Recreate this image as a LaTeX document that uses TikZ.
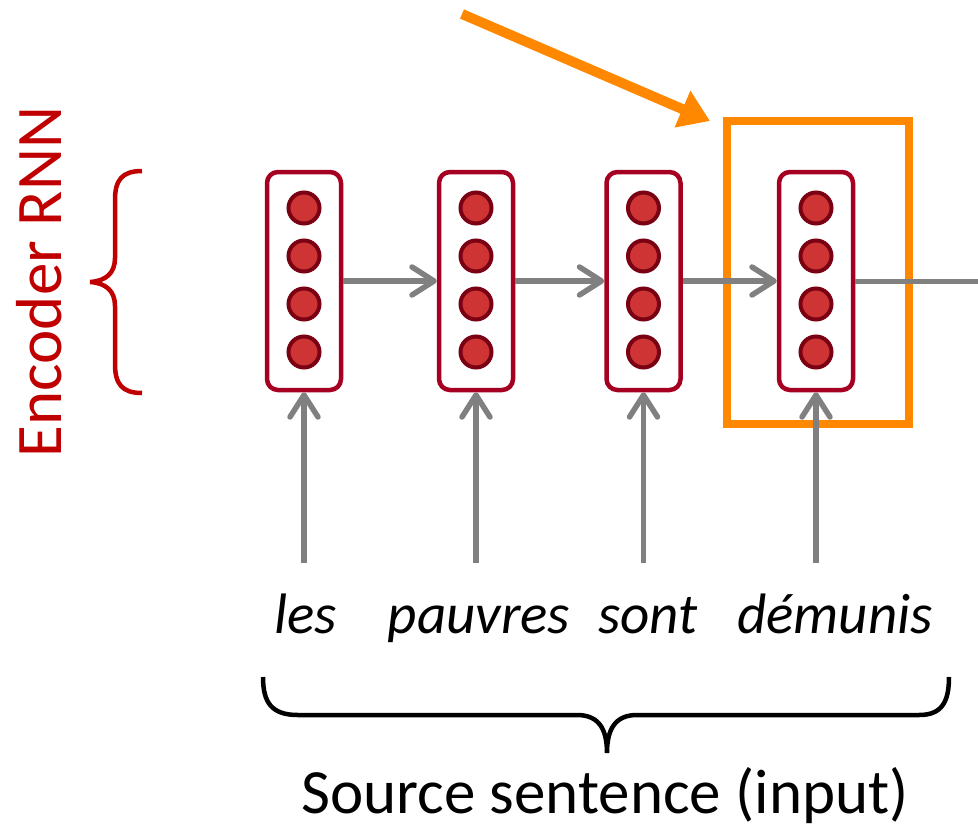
\documentclass[tikz,border=0pt]{standalone}
\usepackage{fontspec}
\setmainfont{Carlito}
\usetikzlibrary{arrows.meta}
\definecolor{boxred}{RGB}{165,0,33}
\definecolor{dotfill}{RGB}{206,52,52}
\definecolor{dotline}{RGB}{122,0,20}
\definecolor{flowgray}{RGB}{128,128,128}
\definecolor{hlorange}{RGB}{255,136,0}
\definecolor{encred}{RGB}{192,0,0}
\tikzset{
  rnnbox/.style={draw=boxred, line width=4.5pt, rounded corners=11pt, minimum width=74pt, minimum height=218pt, inner sep=0pt, fill=white},
  unit/.style={circle, draw=dotline, fill=dotfill, line width=4pt, minimum size=31pt, inner sep=0pt},
  flow/.style={draw=flowgray, line width=5.5pt, -{Straight Barb[length=22pt,width=28pt,line cap=round,line join=round]}},
  flowplain/.style={draw=flowgray, line width=5pt},
  word/.style={font=\fontsize{57}{63}\selectfont\itshape, anchor=base, inner sep=0pt},
  hlbox/.style={draw=hlorange, line width=8.5pt},
  hlarrow/.style={draw=hlorange, line width=10pt, -{Triangle[length=30pt,width=38pt]}},
}
\begin{document}
\begin{tikzpicture}[x=1pt,y=-1pt]
\useasboundingbox (0,0) rectangle (978,828);
% highlight box
\node[hlbox, minimum width=182pt, minimum height=303pt, inner sep=0pt] (hl) at (818,272.5) {};
% boxes
\foreach \i/\x in {1/304,2/476,3/643.5,4/816}{
  \node[rnnbox] (b\i) at (\x,281) {};
  \node[unit] (u\i a) at (\x,208) {};
  \node[unit] (u\i b) at (\x,256) {};
  \node[unit] (u\i c) at (\x,304) {};
  \node[unit] (u\i d) at (\x,352) {};
  \coordinate (w\i) at (\x,563);
  \draw[flow] (w\i) -- (b\i.south);
}
\draw[flow] (b1.east) -- (b2.west);
\draw[flow] (b2.east) -- (b3.west);
\draw[flow] (b3.east) -- (b4.west);
\coordinate (out) at (980,281);
\draw[flowplain] (b4.east) -- (out);
% orange arrow
\coordinate (oa) at (462,14);
\coordinate (ob) at (710,121);
\draw[hlarrow] (oa) -- (ob);
% words
\node[word] (t1) at (305.5,633) {les};
\node[word] (t2) at (479,633) {pauvres};
\node[word] (t3) at (648,633) {sont};
\node[word] (t4) at (835,633) {démunis};
% bottom brace
\draw[black, line width=4.5pt] (263,677) .. controls (263,703) and (272,715) .. (298,715) -- (577,715) .. controls (598,715) and (607,728) .. (607,753) .. controls (607,728) and (616,715) .. (637,715) -- (919,715) .. controls (941,715) and (949,703) .. (949,677);
\node[font=\fontsize{63}{69}\selectfont, anchor=base, inner sep=0pt] (src) at (605,813) {Source sentence (input)};
% left brace
\draw[encred, line width=4.5pt] (142,171) .. controls (122,171) and (115,180) .. (115,200) -- (115,258) .. controls (115,273) and (106,281) .. (90,282) .. controls (106,283) and (115,291) .. (115,306) -- (115,364) .. controls (115,384) and (122,393) .. (142,393);
\node[font=\fontsize{65}{72}\selectfont, text=encred, rotate=90, anchor=base, inner sep=0pt] (enc) at (61,282) {Encoder RNN};
\end{tikzpicture}
\end{document}
